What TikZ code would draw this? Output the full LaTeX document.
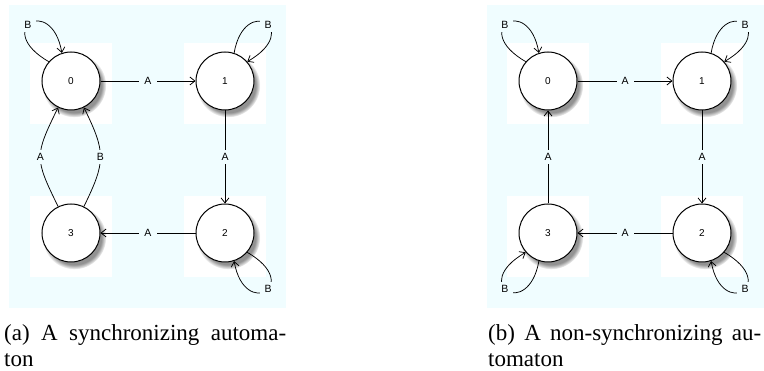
\documentclass[tikz,border=0pt]{standalone}
\usepackage{fontspec}
\setmainfont{Liberation Serif}
\newfontfamily\statefont{Liberation Sans}
\usetikzlibrary{arrows.meta,shadows}
\definecolor{panelbg}{RGB}{240,253,255}
\begin{document}
\begin{tikzpicture}[x=1pt,y=1pt,
  state/.style={circle,draw=black,line width=1pt,fill=white,minimum size=58pt,inner sep=0pt,
    font=\statefont\fontsize{10}{12}\selectfont,
    circular drop shadow={shadow xshift=3pt,shadow yshift=-4pt,shadow scale=1.1,opacity=0.85}},
  backdrop/.style={fill=white,minimum width=82pt,minimum height=81pt,inner sep=0pt},
  trans/.style={line width=0.75pt,-{Straight Barb[length=5pt,width=8pt]}},
  lbl/.style={fill=panelbg,inner xsep=5pt,inner ysep=3pt,font=\statefont\fontsize{10.5}{12}\selectfont},
  capline/.style={anchor=base west,inner sep=0pt,font=\fontsize{23}{26}\selectfont}]
\useasboundingbox (0,0) rectangle (764,-371);

% panel backgrounds
\fill[panelbg] (9,-5) rectangle (286,-308);
\fill[panelbg] (487,-5) rectangle (764,-308);

% ---------- (a) synchronizing automaton ----------
\node[backdrop] (a0sq) at (71,-84) {};
\node[backdrop] (a1sq) at (225,-84) {};
\node[backdrop] (a3sq) at (71,-237) {};
\node[backdrop] (a2sq) at (225,-237) {};
\node[state] (a0) at (71,-81) {0};
\node[state] (a1) at (225,-81) {1};
\node[state] (a3) at (71,-233) {3};
\node[state] (a2) at (225,-233) {2};

\draw[trans] (a0) -- node[lbl]{A} (a1);
\draw[trans] (a1) -- node[lbl]{A} (a2);
\draw[trans] (a2) -- node[lbl]{A} (a3);
\draw[trans] (a3) to[out=116,in=-116,looseness=1.4] node[lbl]{A} (a0);
\draw[trans] (a3) to[out=64,in=-64,looseness=1.3] node[lbl]{B} (a0);
\draw[trans] (a0.139) .. controls +(150:65) and +(100:60) .. node[lbl,pos=0.45]{B} (a0.108);
\draw[trans] (a1.72) .. controls +(80:60) and +(30:65) .. node[lbl,pos=0.55]{B} (a1.41);
\draw[trans] (a2.-41) .. controls +(-30:65) and +(-80:60) .. node[lbl,pos=0.45]{B} (a2.-72);

% ---------- (b) non-synchronizing automaton ----------
\node[backdrop] (b0sq) at (548,-84) {};
\node[backdrop] (b1sq) at (702,-84) {};
\node[backdrop] (b3sq) at (548,-237) {};
\node[backdrop] (b2sq) at (702,-237) {};
\node[state] (b0) at (548,-81) {0};
\node[state] (b1) at (702,-81) {1};
\node[state] (b3) at (548,-233) {3};
\node[state] (b2) at (702,-233) {2};

\draw[trans] (b0) -- node[lbl]{A} (b1);
\draw[trans] (b1) -- node[lbl]{A} (b2);
\draw[trans] (b2) -- node[lbl]{A} (b3);
\draw[trans] (b3) -- node[lbl]{A} (b0);
\draw[trans] (b0.139) .. controls +(150:65) and +(100:60) .. node[lbl,pos=0.45]{B} (b0.108);
\draw[trans] (b1.72) .. controls +(80:60) and +(30:65) .. node[lbl,pos=0.55]{B} (b1.41);
\draw[trans] (b2.-41) .. controls +(-30:65) and +(-80:60) .. node[lbl,pos=0.45]{B} (b2.-72);
\draw[trans] (b3.-108) .. controls +(-100:60) and +(-150:65) .. node[lbl,pos=0.55]{B} (b3.-139);

% captions
\node[capline] (capa1) at (4,-341) {\makebox[282pt][s]{(a) A synchronizing automa-}};
\node[capline] (capa2) at (4,-367) {ton};
\node[capline] (capb1) at (488,-341) {\makebox[273pt][s]{(b) A non-synchronizing au-}};
\node[capline] (capb2) at (488,-367) {tomaton};
\end{tikzpicture}
\end{document}
